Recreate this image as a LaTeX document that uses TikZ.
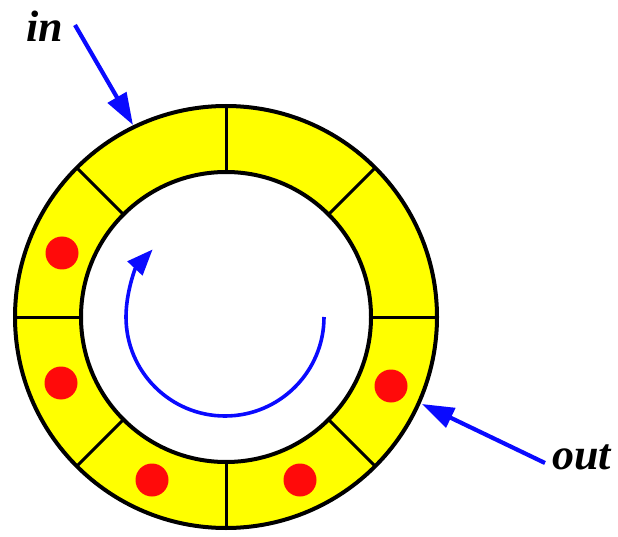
\documentclass[tikz,border=0pt]{standalone}
\usepackage{fontspec}
\setmainfont{Liberation Serif}
\usetikzlibrary{arrows.meta,calc}
\definecolor{ringyellow}{RGB}{255,255,0}
\definecolor{dotred}{RGB}{255,10,10}
\definecolor{arrblue}{RGB}{10,10,255}
\tikzset{
  ringline/.style={black, line width=4pt},
  sepline/.style={black, line width=3pt},
  dot/.style={circle, fill=dotred, minimum size=33pt, inner sep=0pt},
  barrow/.style={arrblue, line width=4.2pt, -{Triangle[length=32pt,width=21pt]}},
  carrow/.style={arrblue, line width=3.6pt, -{Triangle[length=26pt,width=20pt]}},
  lbl/.style={font=\fontsize{44}{50}\selectfont\bfseries\itshape, inner sep=0pt}
}
\begin{document}
\begin{tikzpicture}[x=1pt,y=-1pt]
\useasboundingbox (0,0) rectangle (618,537);
\coordinate (c) at (226,317);
% ring
\fill[ringyellow, even odd rule] (c) circle (211) (c) circle (145);
\foreach \a in {0,45,...,315}
  \draw[sepline] ($(c)+(\a:145)$) -- ($(c)+(\a:211)$);
\draw[ringline] (c) circle (211);
\draw[ringline] (c) circle (145);
% dots
\node[dot] (d1) at (62,253) {};
\node[dot] (d2) at (61,383) {};
\node[dot] (d3) at (152,480) {};
\node[dot] (d4) at (300,480) {};
\node[dot] (d5) at (391,386) {};
% labels
\node[lbl, anchor=base west] (in) at (26,42) {in};
\node[lbl, anchor=base west] (out) at (552,469) {out};
\coordinate (inS) at (75,25);
\coordinate (inE) at (133,125);
\coordinate (outS) at (545,463);
\coordinate (outE) at (422,404);
\draw[barrow] (inS) -- (inE);
\draw[barrow] (outS) -- (outE);
% circulation arrow
\draw[carrow] (324,317) arc[start angle=0, end angle=223, radius=99];
\end{tikzpicture}
\end{document}
